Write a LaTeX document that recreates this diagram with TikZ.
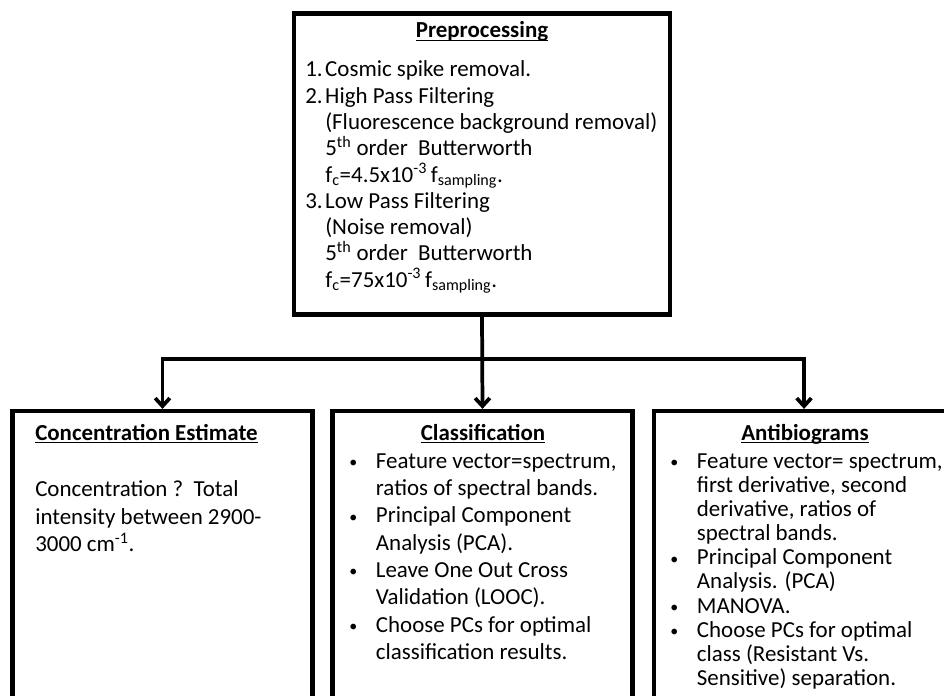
\documentclass[tikz,border=0pt]{standalone}
\usepackage{fontspec}
\setmainfont{Carlito}
\usetikzlibrary{arrows.meta,fit}
\newcommand\myul[1]{\setbox0\hbox{#1}\rlap{\rule[-2.6pt]{\wd0}{1.1pt}}\box0}
\newcommand\mybul{\makebox[20pt][l]{\raisebox{0.5pt}{\fontsize{12}{12}\selectfont\textbullet}}}
\begin{document}
\begin{tikzpicture}[x=0.75pt,y=-0.75pt,
  box/.style={draw, line width=3.2pt, inner sep=0pt, rectangle},
  conn/.style={line width=2.8pt, -{Straight Barb[length=6pt,width=11pt]}},
  txt/.style={anchor=base west, inner sep=0pt},
  ttl/.style={anchor=base, inner sep=0pt, font=\fontsize{17.2}{20}\selectfont\bfseries}]
\useasboundingbox (0,0) rectangle (944,695);
\clip (0,0) rectangle (944,695);
\fill[white] (0,0) rectangle (944,695);

% boxes
\node[box, fit={(294,13.5) (670,314.5)}] (pre) {};
\node[box, fit={(12.5,411) (312.5,760)}] (left) {};
\node[box, fit={(332.5,411) (632.5,760)}] (mid) {};
\node[box, fit={(654,411) (954,760)}] (right) {};

% top box text
\node[ttl] (pretitle) at (482,38) {\myul{Preprocessing}};
\node[txt] (pretext) at (305,77) {\parbox[t]{300pt}{\fontsize{17.2}{19.7}\selectfont
\makebox[15pt][l]{1.}Cosmic spike removal.\\
\makebox[15pt][l]{2.}High Pass Filtering\\
\hspace*{15pt}(Fluorescence background removal)\\
\hspace*{15pt}5\textsuperscript{th} order\ \ Butterworth\\
\hspace*{15pt}f\textsubscript{c}=4.5x10\textsuperscript{-3}\,f\textsubscript{sampling}.\\
\makebox[15pt][l]{3.}Low Pass Filtering\\
\hspace*{15pt}(Noise removal)\\
\hspace*{15pt}5\textsuperscript{th} order\ \ Butterworth\\
\hspace*{15pt}f\textsubscript{c}=75x10\textsuperscript{-3}\,f\textsubscript{sampling}.}};

% left box text
\node[ttl, anchor=base west] (lefttitle) at (35,440) {\myul{Concentration Estimate}};
\node[txt] (lefttext) at (35,496.7) {\parbox[t]{220pt}{\fontsize{17.2}{20.6}\selectfont
Concentration ?\ \ Total\\
intensity between 2900-\\
3000 cm\textsuperscript{-1}.}};

% middle box text
\node[ttl] (midtitle) at (483,440) {\myul{Classification}};
\node[txt] (midtext) at (349,468.3) {\parbox[t]{230pt}{\fontsize{17.2}{20.5}\selectfont
\mybul Feature vector=spectrum,\\
\hspace*{20pt}ratios of spectral bands.\\
\mybul Principal Component\\
\hspace*{20pt}Analysis (PCA).\\
\mybul Leave One Out Cross\\
\hspace*{20pt}Validation (LOOC).\\
\mybul Choose PCs for optimal\\
\hspace*{20pt}classification results.}};

% right box text
\node[ttl] (righttitle) at (805,440) {\myul{Antibiograms}};
\node[txt] (righttext) at (670,468.3) {\parbox[t]{230pt}{\fontsize{17.2}{18.1}\selectfont
\mybul Feature vector= spectrum,\\
\hspace*{20pt}first derivative, second\\
\hspace*{20pt}derivative, ratios of\\
\hspace*{20pt}spectral bands.\\
\mybul Principal Component\\
\hspace*{20pt}Analysis. (PCA)\\
\mybul MANOVA.\\
\mybul Choose PCs for optimal\\
\hspace*{20pt}class (Resistant Vs.\\
\hspace*{20pt}Sensitive) separation.}};

% connectors
\coordinate (j) at (482,359);
\draw[conn] (pre.south) -- (mid.north);
\draw[conn] (j) -| (left.north);
\draw[conn] (j) -| (right.north);
\end{tikzpicture}
\end{document}
